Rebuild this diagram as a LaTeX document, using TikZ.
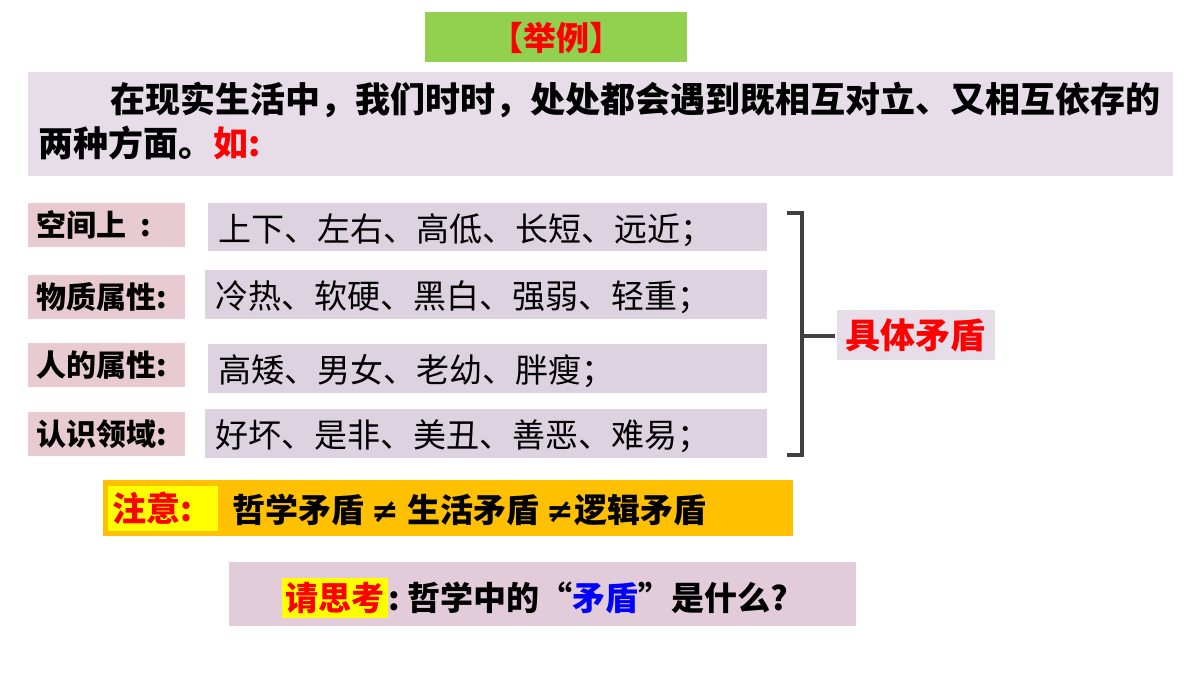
\documentclass[tikz,border=0pt]{standalone}
\usepackage{fontspec}
\newfontfamily\cjk{Noto Sans CJK SC}
\begin{document}
\begin{tikzpicture}[x=0.5pt,y=-0.5pt,
  bt/.style={font=\cjk\bfseries\fontsize{17.5}{20}\selectfont,anchor=west,inner sep=0},
  lb/.style={font=\cjk\bfseries\fontsize{15}{18}\selectfont,anchor=west,inner sep=0},
  rt/.style={font=\cjk\fontsize{16.5}{19}\selectfont,anchor=west,inner sep=0}]
\definecolor{lav}{HTML}{E6DDE8}
\definecolor{lav2}{HTML}{DCD2E0}
\definecolor{pinkb}{HTML}{E8CBD0}
\definecolor{grn}{HTML}{92D050}
\definecolor{org}{HTML}{FFC000}
\definecolor{ylw}{HTML}{FFFF00}
\definecolor{pk2}{HTML}{E2CCDA}
\useasboundingbox[fill=white] (0,0) rectangle (1200,675);
\fill[grn] (425,12) rectangle (687,62);
\node[bt,text=red,font=\cjk\bfseries\fontsize{16.5}{18}\selectfont,anchor=center] (t) at (556,38) {【举例】};
\fill[lav] (28,72) rectangle (1173,176);
\node[bt] (l1) at (110,100) {在现实生活中，我们时时，处处都会遇到既相互对立、又相互依存的};
\node[bt] (l2) at (38,143) {两种方面。\textcolor{red}{如:}};
\foreach \y/\t/\c in {225/空间上\ \ :/a,297/物质属性:/b,365/人的属性:/c,434/认识领域:/d}{
  \fill[pinkb] (28,\y-22) rectangle (185,\y+22);
  \node[lb] (L\c) at (36,\y) {\t};}
\foreach \xa/\ya/\yb/\t/\c in {208/203/251/上下、左右、高低、长短、远近；/a,205/270/319/冷热、软硬、黑白、强弱、轻重；/b,208/344/393/高矮、男女、老幼、胖瘦；/c,205/409/458/好坏、是非、美丑、善恶、难易；/d}{
  \fill[lav2] (\xa,\ya) rectangle (767,\yb);
  \node[rt] (R\c) at (\xa+10,{(\ya+\yb)/2+3}) {\t};}
\coordinate (bt1) at (787,213);\coordinate (bt2) at (787,455);
\draw[line width=1.6pt,black!75] (bt1) -- (802,213) -- (802,455) -- (bt2);
\coordinate (bm) at (802,336);\coordinate (be) at (835,336);
\draw[line width=1.6pt,black!75] (bm) -- (be);
\fill[lav] (837,310) rectangle (995,360);
\node[bt,text=red] (J) at (845,335) {具体矛盾};
\fill[org] (103,480) rectangle (793,536);
\fill[ylw] (108,486) rectangle (218,531);
\node[bt,text=red,font=\cjk\bfseries\fontsize{17}{18}\selectfont] (Z) at (112,508) {注意:};
\node[bt,font=\cjk\bfseries\fontsize{16.5}{18}\selectfont] (Z2) at (232,510) {哲学矛盾 {\fontspec{DejaVu Sans}≠} 生活矛盾 {\fontspec{DejaVu Sans}≠}逻辑矛盾};
\fill[pk2] (229,562) rectangle (856,626);
\fill[ylw] (282,578) rectangle (388,618);
\node[bt,text=red,font=\cjk\bfseries\fontsize{16.5}{18}\selectfont] (Q) at (285,598) {请思考};
\node[bt,font=\cjk\bfseries\fontsize{16.5}{18}\selectfont] (Q2) at (388,598) {:\ 哲学中的“\textcolor{blue}{矛盾}”是什么?};
\end{tikzpicture}
\end{document}
